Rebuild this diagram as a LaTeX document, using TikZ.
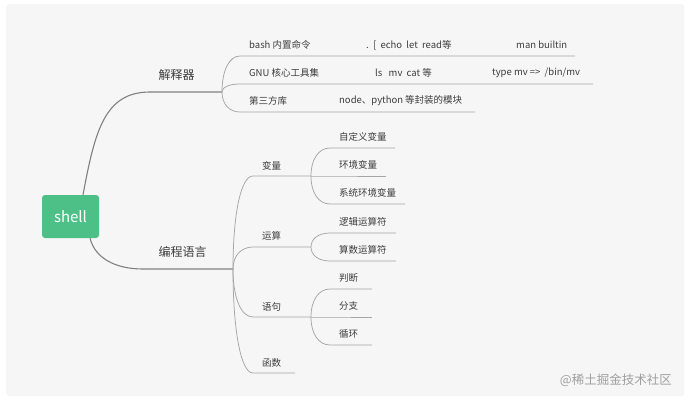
\documentclass[tikz,border=0pt]{standalone}
\usepackage{fontspec}
\setmainfont{Noto Sans CJK SC}
\usetikzlibrary{calc}
\definecolor{shellgreen}{RGB}{76,192,134}
\definecolor{panelbg}{RGB}{246,246,246}
\definecolor{mainline}{RGB}{128,128,128}
\definecolor{subline}{RGB}{165,165,165}
\definecolor{txt}{RGB}{60,60,60}
\begin{document}
\begin{tikzpicture}[x=1pt,y=-1pt,
  mainbr/.style={draw=mainline,line width=1.1pt},
  subbr/.style={draw=subline,line width=0.75pt},
  branch/.style={to path={.. controls ($(\tikztostart)!0.6!(\tikztostart|-\tikztotarget)$) and ($(\tikztotarget)!0.6!(\tikztostart|-\tikztotarget)$) .. (\tikztotarget)}},
  mainlab/.style={text=txt,font=\fontsize{12}{14}\selectfont,inner sep=0pt},
  sublab/.style={text=txt,font=\fontsize{9.5}{11}\selectfont,inner sep=0pt,anchor=west}]
\useasboundingbox (0,0) rectangle (686,402);
\fill[white] (0,0) rectangle (686,402);
\fill[panelbg,rounded corners=3pt] (6,4) rectangle (684,396);
% root
\node[fill=shellgreen,rounded corners=3pt,minimum width=57pt,minimum height=43pt,inner sep=0pt,text=white,font=\fontsize{15}{17}\selectfont] (shell) at (70.5,216.5) {shell};
% main branches
\coordinate (j1s) at (150,92);
\coordinate (j1) at (222,92);
\coordinate (j2s) at (143,269);
\coordinate (j2) at (233,269);
\draw[mainbr] (shell.60) .. controls (95,130) and (105,92) .. (j1s) -- (j1);
\draw[mainbr] (shell.-48) .. controls (95,258) and (115,269) .. (j2s) -- (j2);
\node[mainlab] (l1) at (176.5,75) {解释器};
\node[mainlab] (l2) at (182.5,252) {编程语言};
% interpreter children
\coordinate (a1s) at (240,56); \coordinate (a1e) at (575,56);
\coordinate (a2s) at (240,84); \coordinate (a2e) at (593,84);
\coordinate (a3s) at (240,112); \coordinate (a3e) at (475,112);
\draw[subbr] (j1) to[branch] (a1s) -- (a1e);
\draw[subbr] (j1) to[branch] (a2s) -- (a2e);
\draw[subbr] (j1) to[branch] (a3s) -- (a3e);
\node[sublab] (t11) at (249,45) {bash 内置命令};
\node[sublab] (t12) at (366,45) {.\ \ [\ \ echo\ \ let\ \ read等};
\node[sublab] (t13) at (516,45) {man builtin};
\node[sublab] (t21) at (249,73) {GNU 核心工具集};
\node[sublab] (t22) at (375,73) {ls\ \ \ mv\ \ cat 等};
\node[sublab] (t23) at (492,73) {type mv =>\ \ /bin/mv};
\node[sublab] (t31) at (249,101) {第三方库};
\node[sublab] (t32) at (339,101) {node、python 等封装的模块};
% programming language children
\coordinate (b1s) at (253,176); \coordinate (k1) at (311,176);
\coordinate (b2s) at (253,247); \coordinate (k2) at (311,247);
\coordinate (b3s) at (253,317); \coordinate (k3) at (311,317);
\coordinate (b4s) at (253,373); \coordinate (b4e) at (295,373);
\draw[subbr] (j2) to[branch] (b1s) -- (k1);
\draw[subbr] (j2) to[branch] (b2s) -- (k2);
\draw[subbr] (j2) to[branch] (b3s) -- (k3);
\draw[subbr] (j2) to[branch] (b4s) -- (b4e);
\node[sublab] (v) at (262,166) {变量};
\node[sublab] (o) at (262,236) {运算};
\node[sublab] (s) at (262,307) {语句};
\node[sublab] (f) at (262,363) {函数};
% variables
\coordinate (c1s) at (330,148); \coordinate (c1e) at (395,148);
\coordinate (c2s) at (330,176); \coordinate (c2e) at (386,176);
\coordinate (c3s) at (330,204); \coordinate (c3e) at (405,204);
\draw[subbr] (k1) to[branch] (c1s) -- (c1e);
\draw[subbr] (k1) -- (c2s) -- (c2e);
\draw[subbr] (k1) to[branch] (c3s) -- (c3e);
\node[sublab] (v1) at (339,137) {自定义变量};
\node[sublab] (v2) at (339,165) {环境变量};
\node[sublab] (v3) at (339,193) {系统环境变量};
% operators
\coordinate (d1s) at (330,233); \coordinate (d1e) at (396,233);
\coordinate (d2s) at (330,261); \coordinate (d2e) at (396,261);
\draw[subbr] (k2) to[branch] (d1s) -- (d1e);
\draw[subbr] (k2) to[branch] (d2s) -- (d2e);
\node[sublab] (o1) at (339,222) {逻辑运算符};
\node[sublab] (o2) at (339,250) {算数运算符};
% statements
\coordinate (e1s) at (330,289); \coordinate (e1e) at (372,289);
\coordinate (e2s) at (330,317); \coordinate (e2e) at (372,317);
\coordinate (e3s) at (330,345); \coordinate (e3e) at (372,345);
\draw[subbr] (k3) to[branch] (e1s) -- (e1e);
\draw[subbr] (k3) -- (e2s) -- (e2e);
\draw[subbr] (k3) to[branch] (e3s) -- (e3e);
\node[sublab] (s1) at (339,278) {判断};
\node[sublab] (s2) at (339,306) {分支};
\node[sublab] (s3) at (339,334) {循环};
% credit
\node[text=gray!75,font=\fontsize{12.5}{14}\selectfont,inner sep=0pt,anchor=east] (credit) at (672,380) {@稀土掘金技术社区};
\end{tikzpicture}
\end{document}
